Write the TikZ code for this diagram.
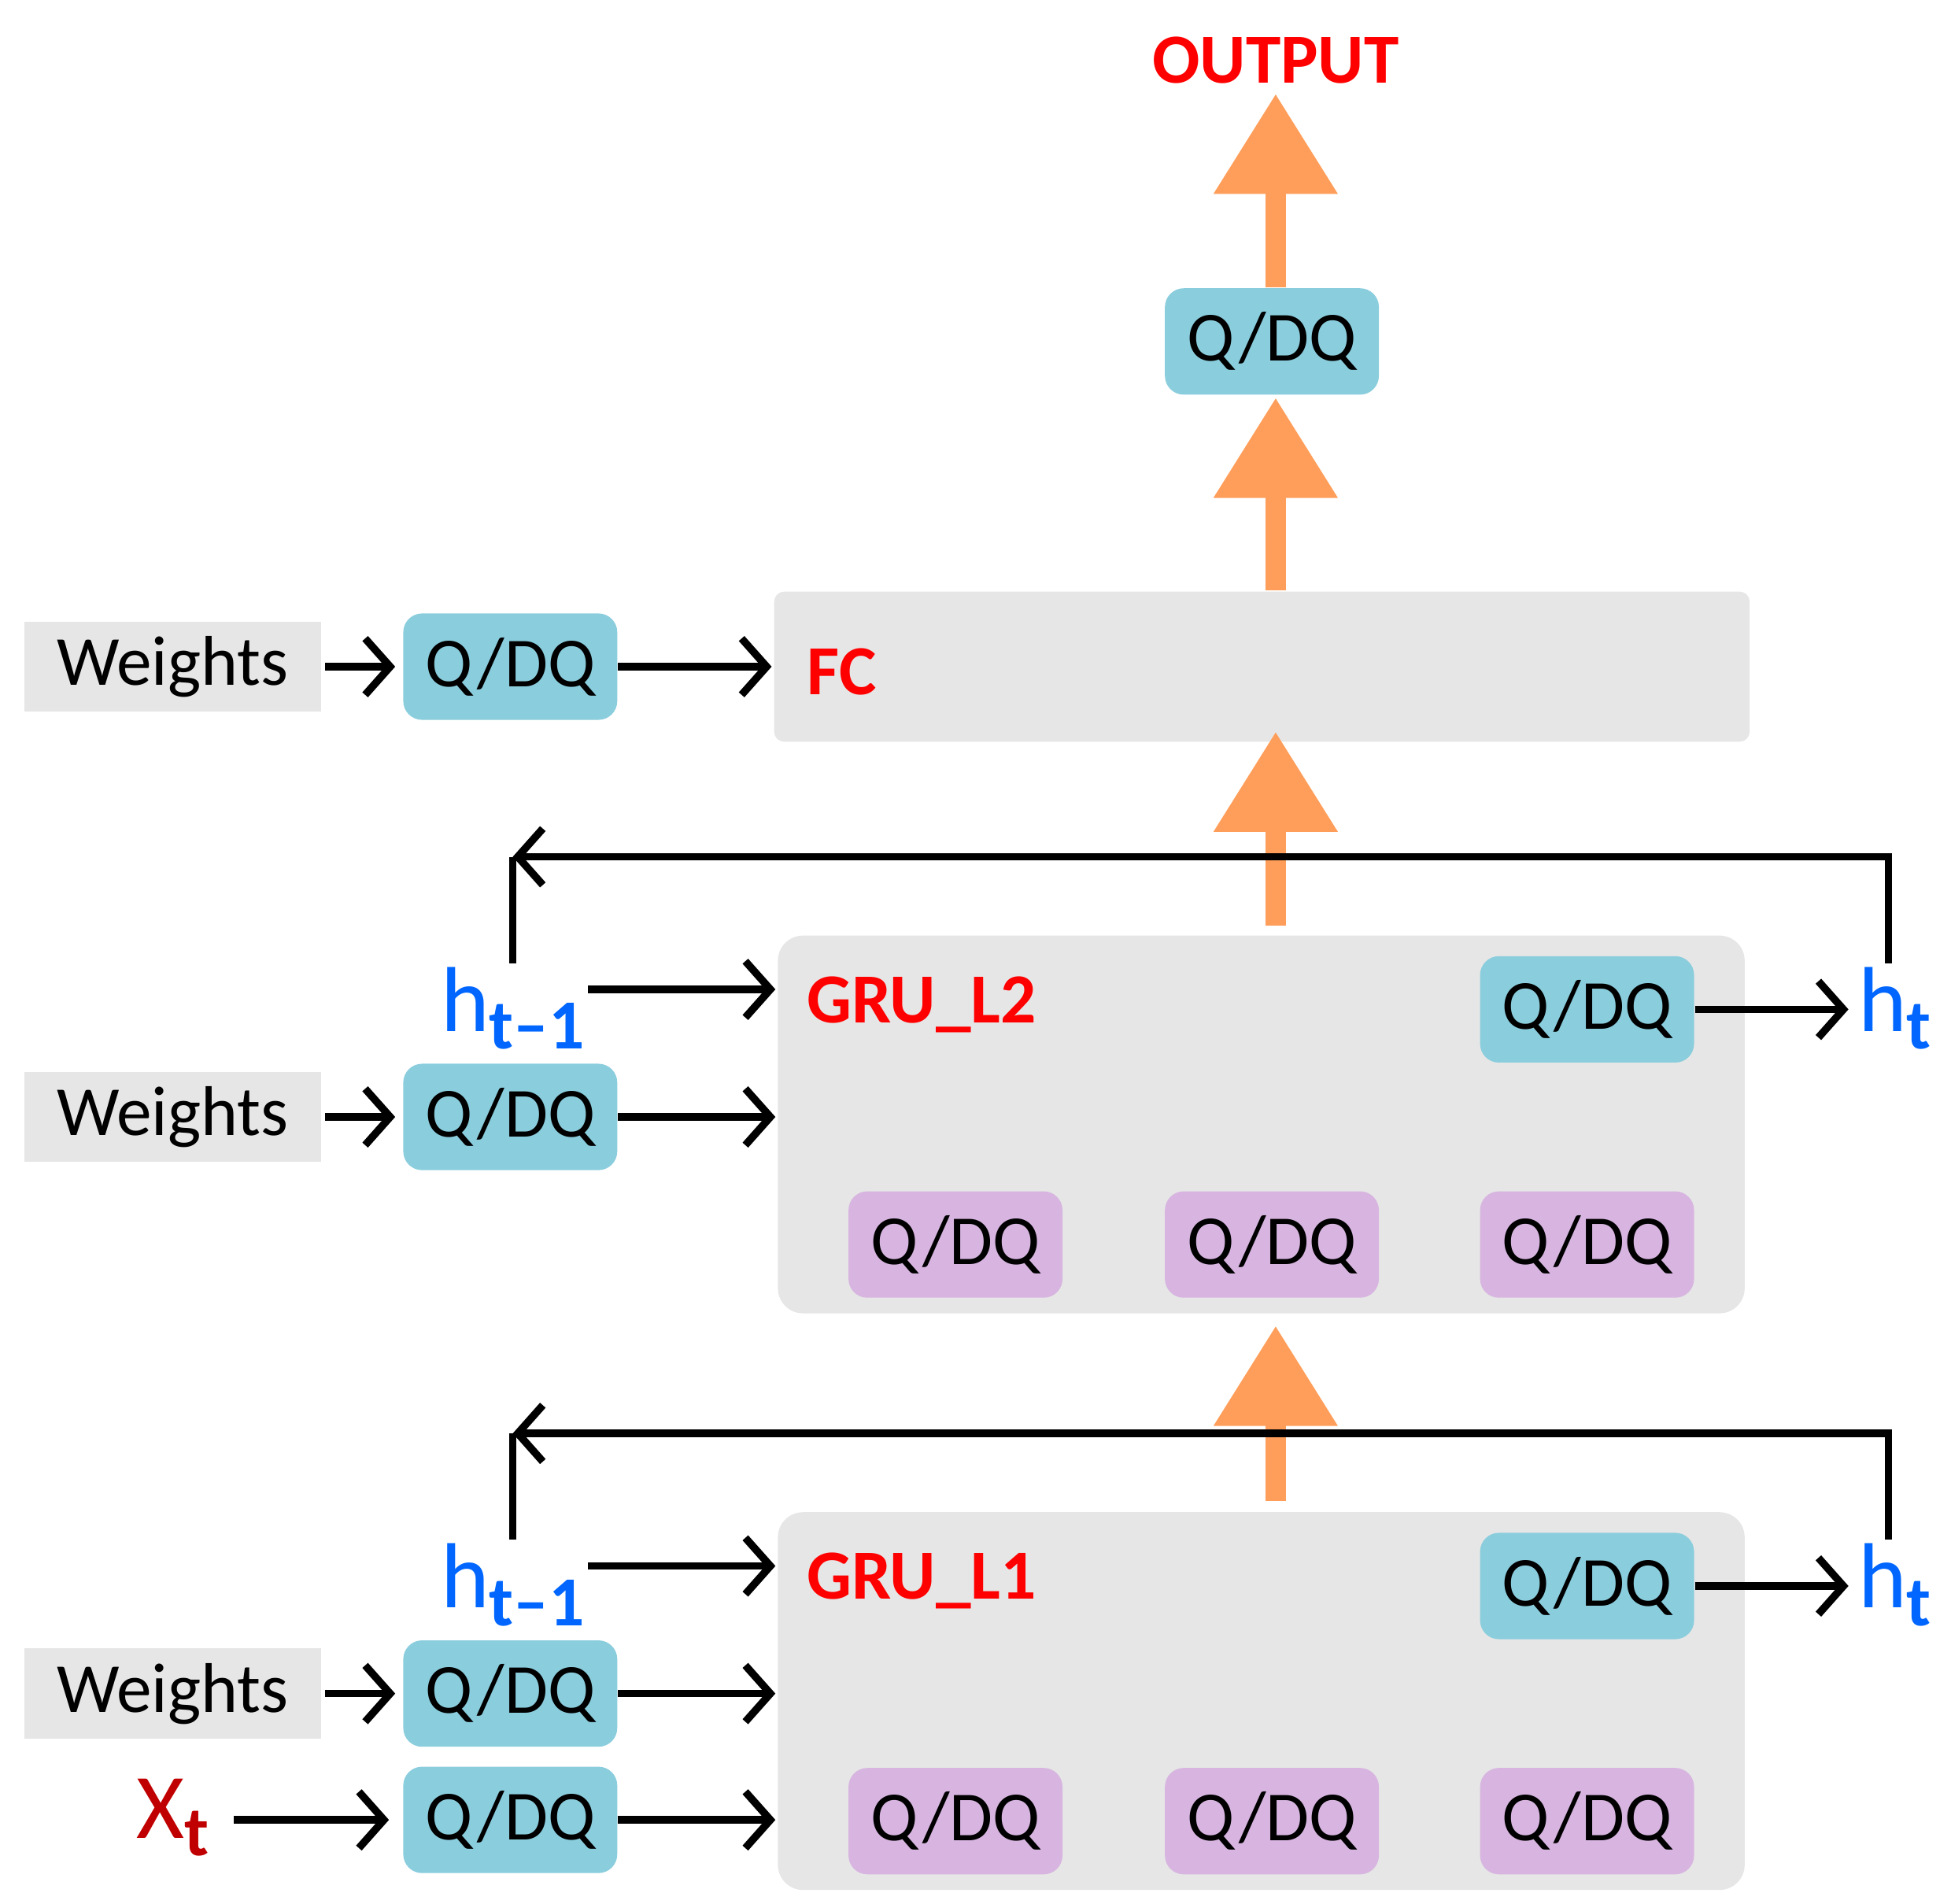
\documentclass[tikz,border=0pt]{standalone}
\usepackage{fontspec}
\setmainfont{Carlito}
\usetikzlibrary{arrows.meta}
\definecolor{qblue}{HTML}{8ACDDD}
\definecolor{qpurp}{HTML}{D7B5E0}
\definecolor{boxgray}{HTML}{E6E6E6}
\definecolor{orng}{HTML}{FF9E5A}
\definecolor{hblue}{HTML}{0066FF}
\definecolor{xred}{HTML}{C00000}
\newcommand{\subsc}[1]{\raisebox{-0.4ex}{\fontsize{16}{18}\selectfont\bfseries #1}}
\begin{document}
\begin{tikzpicture}[x=0.01cm,y=-0.01cm,
  txt/.style={font=\fontsize{16}{19}\selectfont},
  qb/.style={fill=qblue,rounded corners=0.15cm,txt,minimum width=1.71cm,minimum height=0.85cm,inner sep=0pt},
  qp/.style={qb,fill=qpurp},
  wt/.style={fill=boxgray,txt,minimum width=2.37cm,minimum height=0.72cm,inner sep=0pt},
  lbl/.style={text=red,font=\fontsize{16}{19}\selectfont\bfseries,anchor=west},
  hv/.style={text=hblue,font=\fontsize{21}{24}\selectfont},
  blk/.style={line width=0.06cm,-{Straight Barb[length=0.2cm,width=0.45cm]}},
  big/.style={draw=orng,line width=0.16cm,-{Triangle[width=0.95cm,length=0.8cm]}},
  panel/.style={fill=boxgray,rounded corners=0.2cm}]
\useasboundingbox (0,0) rectangle (1560,1522);

% output part
\node[lbl,anchor=center] (out) at (1020,48) {OUTPUT};
\node[qb] (q0) at (1017,273) {Q/DQ};
\draw[big] (1020,230) -- (1020,75);
\draw[big] (1020,472) -- (1020,318);

% FC
\fill[panel,rounded corners=0.08cm] (619,473) rectangle (1399,593);
\node[lbl] (fc) at (633,537) {FC};
\node[wt] (w1) at (138,533) {Weights};
\node[qb] (q1) at (408,533) {Q/DQ};
\draw[blk] (260,533) -- (316,533);
\draw[blk] (q1) -- (617,533);
\draw[big] (1020,740) -- (1020,585);

% GRU_L2
\fill[panel] (622,748) rectangle (1395,1050);
\node[lbl] (g2) at (633,803) {GRU\_L2};
\node[qb] (o2) at (1269,807) {Q/DQ};
\node[hv] (ht2) at (1515,806) {h\subsc{t}};
\draw[blk] (o2) -- (1478,807);
\node[hv] (hp2) at (410,806) {h\subsc{t–1}};
\draw[blk] (470,791) -- (620,791);
\coordinate (c2) at (410,685);
\draw[blk] (1510,770) |- (c2);
\draw[line width=0.06cm] (c2) -- (410,770);
\node[wt] (w2) at (138,893) {Weights};
\node[qb] (q2) at (408,893) {Q/DQ};
\draw[blk] (260,893) -- (316,893);
\draw[blk] (q2) -- (620,893);
\node[qp] (p21) at (764,995) {Q/DQ};
\node[qp] (p22) at (1017,995) {Q/DQ};
\node[qp] (p23) at (1269,995) {Q/DQ};
\draw[big] (1020,1200) -- (1020,1060);

% GRU_L1
\fill[panel] (622,1209) rectangle (1395,1511);
\node[lbl] (g1) at (633,1264) {GRU\_L1};
\node[qb] (o1) at (1269,1268) {Q/DQ};
\node[hv] (ht1) at (1515,1267) {h\subsc{t}};
\draw[blk] (o1) -- (1478,1268);
\node[hv] (hp1) at (410,1267) {h\subsc{t–1}};
\draw[blk] (470,1252) -- (620,1252);
\coordinate (c1) at (410,1146);
\draw[blk] (1510,1231) |- (c1);
\draw[line width=0.06cm] (c1) -- (410,1231);
\node[wt] (w3) at (138,1354) {Weights};
\node[qb] (q3) at (408,1354) {Q/DQ};
\draw[blk] (260,1354) -- (316,1354);
\draw[blk] (q3) -- (620,1354);
\node[text=xred,font=\fontsize{21}{24}\selectfont] (x) at (138,1453) {X\subsc{t}};
\node[qb] (q4) at (408,1455) {Q/DQ};
\draw[blk] (187,1455) -- (311,1455);
\draw[blk] (q4) -- (620,1455);
\node[qp] (p11) at (764,1456) {Q/DQ};
\node[qp] (p12) at (1017,1456) {Q/DQ};
\node[qp] (p13) at (1269,1456) {Q/DQ};
\end{tikzpicture}
\end{document}
